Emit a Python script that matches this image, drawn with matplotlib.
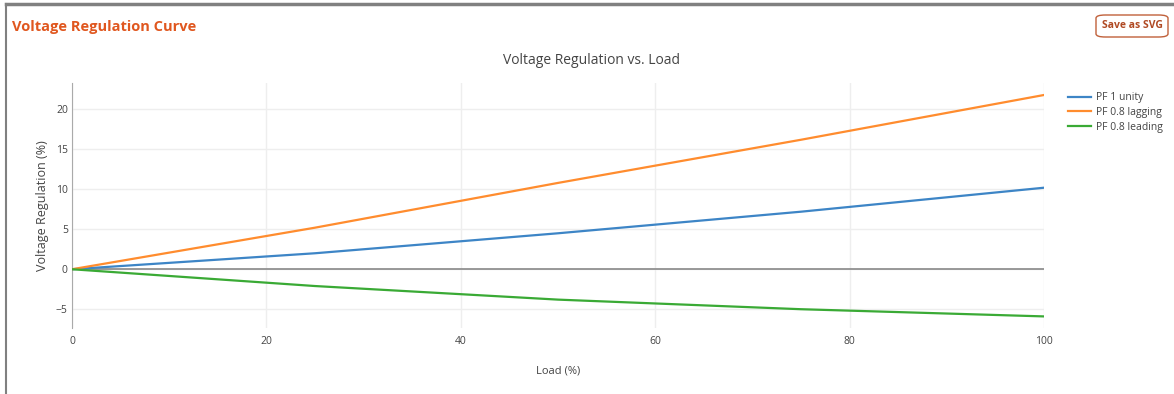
import matplotlib.pyplot as plt
from matplotlib.patches import FancyBboxPatch
from matplotlib.lines import Line2D

plt.rcParams['font.family'] = ['Open Sans', 'DejaVu Sans']

load = [0, 25, 50, 75, 100]
pf_unity = [0, 2.0, 4.5, 7.2, 10.2]
pf_lagging = [0, 5.2, 10.8, 16.2, 21.8]
pf_leading = [0, -2.1, -3.8, -5.0, -5.9]
series_names = ['PF 1 unity', 'PF 0.8 lagging', 'PF 0.8 leading']
colors = ['#3d85c6', '#ff8c2e', '#3aaa35']
xticks = [0, 20, 40, 60, 80, 100]
yticks = [-5, 0, 5, 10, 15, 20]

fig = plt.figure(figsize=(11.74, 3.94), dpi=100)
W, H = 1174, 394

# outer card border (top and left)
fig.add_artist(Line2D([6 / W, 1], [1 - 4 / H, 1 - 4 / H], color='#808080', lw=2.5))
fig.add_artist(Line2D([6 / W, 6 / W], [0, 1 - 4 / H], color='#808080', lw=1.5))

fig.text(12 / W, 1 - 27 / H, 'Voltage Regulation Curve', color='#e0571f',
         fontsize=10.5, fontweight='bold', va='center', ha='left')

btn = FancyBboxPatch((1096 / W, 1 - 37 / H), 72 / W, 22 / H,
                     boxstyle='round,pad=0,rounding_size=0.008',
                     transform=fig.transFigure, fc='white', ec='#c0603a', lw=1)
fig.add_artist(btn)
fig.text(1132 / W, 1 - 26 / H, 'Save as SVG', color='#b04a24', fontsize=7.5,
         fontweight='bold', ha='center', va='center')

fig.text(592 / W, 1 - 60 / H, 'Voltage Regulation vs. Load', fontsize=10,
         color='#444444', ha='center', va='center')

ax = fig.add_axes([72 / W, 1 - 328 / H, (1044 - 72) / W, (328 - 83) / H])
ys = [pf_unity, pf_lagging, pf_leading]
for name, y, c in zip(series_names, ys, colors):
    ax.plot(load, y, color=c, lw=1.6, label=name, zorder=3)

ax.axhline(0, color='#888888', lw=1.2, zorder=2)
ax.set_xlim(0, 100)
ax.set_ylim(-7.35, 23.3)
ax.set_xticks(xticks)
ax.set_yticks(yticks)
ax.set_yticklabels(['\u22125', '0', '5', '10', '15', '20'])
ax.grid(True, color='#eeeeee', lw=1)
ax.set_axisbelow(True)
for s in ['top', 'right', 'bottom']:
    ax.spines[s].set_visible(False)
ax.spines['left'].set_color('#aaaaaa')
ax.tick_params(axis='both', length=0, labelsize=7.5, colors='#444444')
ax.tick_params(axis='x', pad=6)
ax.tick_params(axis='y', pad=3)

ax.set_xlabel('Load (%)', fontsize=8, color='#444444', labelpad=13)
ax.set_ylabel('Voltage Regulation (%)', fontsize=9, color='#444444', labelpad=5)

ax.legend(loc='upper left', bbox_to_anchor=(1.015, 1.0), frameon=False,
          fontsize=7.5, handlelength=2.2, handletextpad=0.5, labelspacing=0.35,
          labelcolor='#444444')

fig.savefig('out.png', dpi=100, facecolor='white')
